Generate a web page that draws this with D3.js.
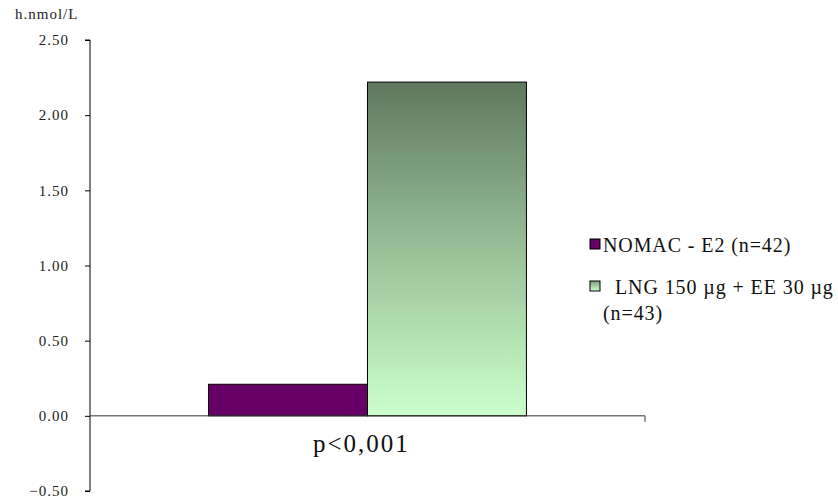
<!DOCTYPE html>
<html>
<head>
<meta charset="utf-8">
<script src="https://cdn.jsdelivr.net/npm/d3@7"></script>
<style>
  body { margin: 0; background: #fff; }
  svg { display: block; }
</style>
</head>
<body>
<svg id="chart" width="838" height="500"></svg>
<script>
// Data
const categories = ["p<0,001"];
const seriesNames = ["NOMAC - E2 (n=42)", "LNG 150 µg + EE 30 µg (n=43)"];
const seriesValues = [0.21, 2.22];
const yTicks = [-0.5, 0, 0.5, 1.0, 1.5, 2.0, 2.5];
const yUnit = "h.nmol/L";

const FONT = "'Liberation Serif'";
const svg = d3.select("#chart");
const plot = { left: 90, right: 645, top: 40, bottom: 491 };

const y = d3.scaleLinear().domain([-0.5, 2.5]).range([plot.bottom, plot.top]);
const x = d3.scaleBand().domain(categories).range([plot.left, plot.right])
  .paddingInner(0).paddingOuter(0.373);
const xs = d3.scaleBand().domain(d3.range(seriesValues.length))
  .range([0, x.bandwidth()]).padding(0);

// Vertical gradients for the second series
const defs = svg.append("defs");
const grad = defs.append("linearGradient").attr("id", "greenGrad")
  .attr("x1", 0).attr("y1", 0).attr("x2", 0).attr("y2", 1);
grad.append("stop").attr("offset", "0%").attr("stop-color", "#5e785e");
grad.append("stop").attr("offset", "50%").attr("stop-color", "#98c098");
grad.append("stop").attr("offset", "100%").attr("stop-color", "#ccffcc");
const gradL = defs.append("linearGradient").attr("id", "greenGradLegend")
  .attr("x1", 0).attr("y1", 0).attr("x2", 0).attr("y2", 1);
gradL.append("stop").attr("offset", "0%").attr("stop-color", "#7fa07f");
gradL.append("stop").attr("offset", "100%").attr("stop-color", "#ccffcc");

const fills = ["#660066", "url(#greenGrad)"];
const legendFills = ["#660066", "url(#greenGradLegend)"];

function txt(sel, size, spacing) {
  return sel.style("font-family", FONT).style("font-size", size + "px")
    .style("letter-spacing", spacing + "px");
}

// Y axis
const yAxis = d3.axisLeft(y).tickValues(yTicks).tickFormat(d3.format(".2f"))
  .tickSize(5).tickPadding(16);
const gy = svg.append("g").attr("transform", `translate(${plot.left},0)`).call(yAxis);
gy.select(".domain").attr("stroke", "#000").attr("d", `M-5,${y(2.5)}H0V${y(-0.5)}H-5`);
gy.selectAll(".tick line").attr("stroke", "#000");
txt(gy.selectAll(".tick text"), 15, 1).attr("fill", "#222");

txt(svg.append("text").attr("x", 15).attr("y", 19), 15, 1).attr("fill", "#222").text(yUnit);

// Bars
const g = svg.append("g");
categories.forEach(cat => {
  seriesValues.forEach((v, i) => {
    g.append("rect")
      .attr("x", x(cat) + xs(i)).attr("width", xs.bandwidth())
      .attr("y", y(Math.max(0, v))).attr("height", Math.abs(y(v) - y(0)))
      .attr("fill", fills[i]).attr("stroke", "#000").attr("stroke-width", 1);
  });
});

// Zero baseline with end tick
svg.append("path")
  .attr("d", `M${plot.left},${y(0)}H${plot.right}V${y(0) + 6}`)
  .attr("fill", "none").attr("stroke", "#333").attr("stroke-width", 1);

// Category label
txt(svg.append("text").attr("x", 313).attr("y", 452), 25, 2).attr("fill", "#111").text(categories[0]);

// Legend
const lg = svg.append("g");
const legendRows = [
  { sq: 239, lines: [{ t: "NOMAC - E2 (n=42)", x: 603, y: 252 }] },
  { sq: 281, lines: [{ t: "LNG 150 µg + EE 30 µg", x: 615, y: 294 }, { t: "(n=43)", x: 603, y: 320 }] }
];
legendRows.forEach((r, i) => {
  lg.append("rect").attr("x", 590).attr("y", r.sq).attr("width", 10).attr("height", 10)
    .attr("fill", legendFills[i]).attr("stroke", "#000").attr("stroke-width", 1);
  r.lines.forEach(l => {
    txt(lg.append("text").attr("x", l.x).attr("y", l.y), 20, 0.9).attr("fill", "#111").text(l.t);
  });
});
</script>
</body>
</html>
